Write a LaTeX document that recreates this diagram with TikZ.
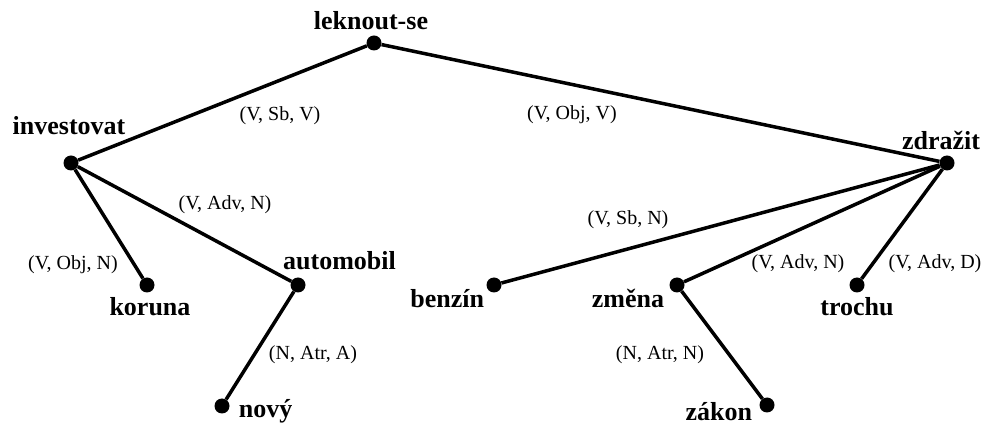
\documentclass[tikz,border=0pt]{standalone}
\usepackage{fontspec}
\setmainfont{Liberation Serif}
\usetikzlibrary{positioning}

\begin{document}
\begin{tikzpicture}[x=1pt,y=-1pt,
    dot/.style={circle,fill,inner sep=0pt,minimum size=15pt},
    word/.style={inner sep=0pt,font=\fontsize{26}{30}\selectfont\bfseries},
    rel/.style={inner sep=0pt,font=\fontsize{20}{24}\selectfont},
    branch/.style={line width=3.5pt}]
      \useasboundingbox (0,0) rectangle (986,427);
      \node[dot](leknout) at (374,43){};
      \node[dot](investovat) at (71,163){};
      \node[dot](zdrazit) at (947,163){};
      \node[dot](koruna) at (147,285){};
      \node[dot](automobil) at (298,285){};
      \node[dot](novy) at (222,406){};
      \node[dot](benzin) at (494,285){};
      \node[dot](zmena) at (677,285){};
      \node[dot](trochu) at (857,285){};
      \node[dot](zakon) at (767,405){};

      \node[word,above=5pt of leknout,xshift=-3pt](leknout-t){leknout-se};
      \node[word,above=20pt of investovat,xshift=-2pt](investovat-t){investovat};
      \node[word,above=5pt of zdrazit,xshift=-6pt](zdrazit-t){zdražit};
      \node[word,below=5pt of koruna,xshift=3pt](koruna-t){koruna};
      \node[word,above=7.5pt of automobil,anchor=south west,xshift=-15pt](automobil-t){automobil};
      \node[word,right=9pt of novy,anchor=base west,yshift=-12pt](novy-t){nový};
      \node[word,left=2pt of benzin,anchor=base east,yshift=-23pt](benzin-t){benzín};
      \node[word,left=5pt of zmena,anchor=base east,yshift=-23pt](zmena-t){změna};
      \node[word,below=5pt of trochu](trochu-t){trochu};
      \node[word,left=7pt of zakon,anchor=base east,yshift=-16pt](zakon-t){zákon};

      \draw[branch] (leknout) -- (investovat);
      \draw[branch] (leknout) -- (zdrazit);
      \draw[branch] (investovat) -- (koruna);
      \draw[branch] (investovat) -- (automobil);
      \draw[branch] (automobil) -- (novy);
      \draw[branch] (zdrazit) -- (benzin);
      \draw[branch] (zdrazit) -- (zmena);
      \draw[branch] (zdrazit) -- (trochu);
      \draw[branch] (zmena) -- (zakon);

      \node[rel](sbv) at (280,116){(V, Sb, V)};
      \node[rel](objv) at (572,115){(V, Obj, V)};
      \node[rel](advn-l) at (225,205){(V, Adv, N)};
      \node[rel](objn) at (73,265){(V, Obj, N)};
      \node[rel](atra) at (313,355){(N, Atr, A)};
      \node[rel](sbn) at (628,220){(V, Sb, N)};
      \node[rel](advn-r) at (798,264){(V, Adv, N)};
      \node[rel](advd) at (935,264){(V, Adv, D)};
      \node[rel](atrn) at (660,355){(N, Atr, N)};
    \end{tikzpicture}
\end{document}
